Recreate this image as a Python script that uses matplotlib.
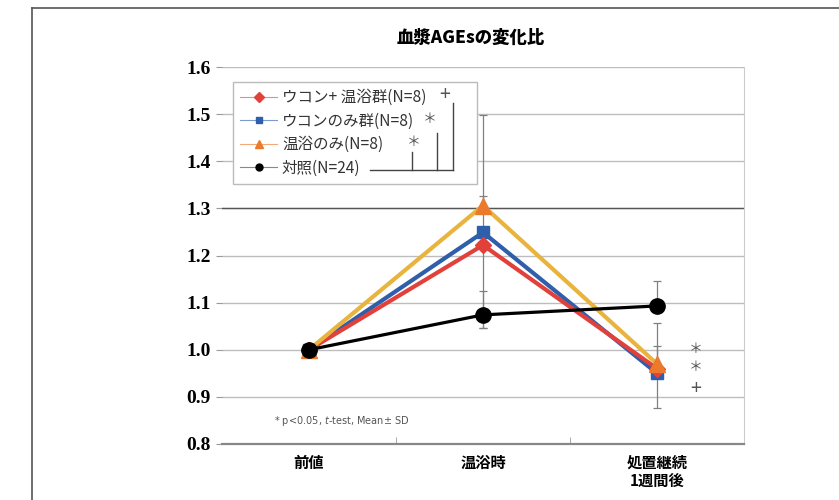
import numpy as np
import matplotlib.pyplot as plt
from matplotlib.lines import Line2D

plt.rcParams['font.family'] = ['Noto Sans CJK JP', 'DejaVu Sans']

# time points and group means (ratio to baseline)
timepoints = ['前値', '温浴時', '処置継続\n1週間後']
turmeric_bath = [1.00, 1.222, 0.96]
turmeric_only = [1.00, 1.249, 0.95]
bath_only = [1.00, 1.306, 0.97]
control = [1.00, 1.074, 1.093]

# SD shown as separate lower / upper bars
turmeric_bath_err = [[0, 0.175, 0], [0, 0, 0.048]]
turmeric_only_err = [[0, 0, 0.073], [0, 0.078, 0]]
bath_only_err = [[0, 0, 0], [0, 0.192, 0.087]]
control_err = [[0, 0.027, 0], [0, 0.051, 0.053]]

labels = ['ウコン+ 温浴群(N=8)', 'ウコンのみ群(N=8)', '温浴のみ(N=8)', '対照(N=24)']

red = '#E2403A'
blue = '#2F5EAA'
orange = '#EC7A2C'
gold = '#E9B43E'

fig = plt.figure(figsize=(8.39, 5.0), dpi=100)
ax = fig.add_axes([0.2646, 0.112, 0.6222, 0.754])

x = np.arange(len(timepoints))
eb = dict(ecolor='#808080', elinewidth=0.9, capsize=3, capthick=0.9)

ax.errorbar(x, turmeric_only, yerr=turmeric_only_err, color=blue, lw=3,
            marker='s', ms=8, zorder=3, **eb)
ax.errorbar(x, turmeric_bath, yerr=turmeric_bath_err, color=red, lw=3,
            marker='D', ms=8, zorder=3.1, **eb)
ax.errorbar(x, bath_only, yerr=bath_only_err, color=gold, lw=3, marker='^',
            ms=11, mfc=orange, mec=orange, zorder=3.2, **eb)
ax.errorbar(x, control, yerr=control_err, color='black', lw=2.3, marker='o',
            ms=11, zorder=3.3, **eb)

ax.set_xlim(-0.5, 2.5)
ax.set_ylim(0.8, 1.6)
ax.set_yticks(np.arange(0.8, 1.61, 0.1))
ax.set_yticklabels([f'{v:.1f}' for v in np.arange(0.8, 1.61, 0.1)],
                   family='Liberation Serif', fontweight='bold', fontsize=14)
ax.set_xticks(x)
ax.set_xticklabels(timepoints, fontsize=11, fontweight='bold',
                   linespacing=1.1)
ax.set_xticks([0.5, 1.5], minor=True)
ax.tick_params(axis='x', which='major', length=0, pad=8)
ax.tick_params(axis='x', which='minor', direction='in', length=5,
               color='#999999')
ax.tick_params(axis='y', length=4, color='#999999', pad=4)

ax.grid(axis='y', color='#BDBDBD', linewidth=1)
ax.set_axisbelow(True)
ax.axhline(1.3, color='#555555', linewidth=1, zorder=1)
for side in ['left', 'top']:
    ax.spines[side].set_visible(False)
ax.spines['right'].set_color('#CCCCCC')
ax.spines['bottom'].set_color('#888888')
ax.spines['bottom'].set_linewidth(1.6)

# legend with thin handles
handles = [
    Line2D([], [], color='#F08A80', lw=0.8, marker='D', ms=5, mfc=red, mec=red),
    Line2D([], [], color='#7A9AD0', lw=0.8, marker='s', ms=5, mfc=blue, mec=blue),
    Line2D([], [], color='#F3AA78', lw=0.8, marker='^', ms=6, mfc=orange, mec=orange),
    Line2D([], [], color='#888888', lw=0.8, marker='o', ms=5, mfc='black', mec='black'),
]
leg = ax.legend(handles, labels, loc='upper left',
                bbox_to_anchor=(0.021, 0.695, 0.468, 0.265), mode='expand',
                fontsize=11.2, frameon=True, fancybox=False, edgecolor='#BBBBBB',
                framealpha=1, handlelength=2.4, handletextpad=0.3,
                labelspacing=0.42, borderpad=0.45, borderaxespad=0)
leg.get_frame().set_linewidth(1)
for t in leg.get_texts():
    t.set_color('#333333')

# significance brackets next to the legend entries
br = dict(color='#444444', lw=1, transform=ax.transAxes, zorder=6)
ax.add_line(Line2D([0.2835, 0.4425], [0.727, 0.727], **br))
ax.add_line(Line2D([0.364, 0.364], [0.727, 0.775], **br))
ax.add_line(Line2D([0.412, 0.412], [0.727, 0.825], **br))
ax.add_line(Line2D([0.4425, 0.4425], [0.727, 0.905], **br))
sig = dict(transform=ax.transAxes, color='#555555', ha='center',
           va='center', zorder=6)
ax.text(0.427, 0.926, '+', fontsize=14, **sig)
ax.text(0.398, 0.862, '＊', fontsize=10, **sig)
ax.text(0.368, 0.801, '＊', fontsize=10, **sig)

# marks for the last time point
for yv, s, fs in zip([1.002, 0.963, 0.917], ['＊', '＊', '+'], [10, 10, 14]):
    ax.text(2.22, yv, s, color='#555555', fontsize=fs, ha='center',
            va='center')

ax.text(0.10, 0.061, '* p<0.05, $\\it{t}$-test, Mean± SD', transform=ax.transAxes,
        fontsize=7, color='#555555', va='center', family='DejaVu Sans')

fig.text(0.561, 0.924, '血漿AGEsの変化比', ha='center', va='center',
         fontsize=12.5, fontweight='heavy')

# outer frame
fx = 32 / 839
fy = 1 - 8 / 500
fig.add_artist(Line2D([fx, fx], [0, fy], color='#555555', lw=1.2,
                      transform=fig.transFigure))
fig.add_artist(Line2D([fx, 1], [fy, fy], color='#555555', lw=1.2,
                      transform=fig.transFigure))

fig.savefig('out.png', dpi=100)
